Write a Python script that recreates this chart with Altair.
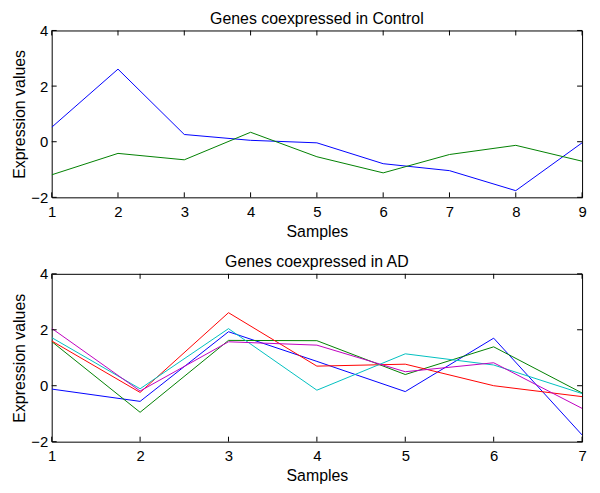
import altair as alt
import pandas as pd

# ---- data ----
control_samples = [1, 2, 3, 4, 5, 6, 7, 8, 9]
control_blue = [0.52, 2.61, 0.26, 0.05, -0.04, -0.79, -1.04, -1.76, -0.04]
control_green = [-1.19, -0.42, -0.65, 0.34, -0.54, -1.12, -0.46, -0.13, -0.70]

ad_samples = [1, 2, 3, 4, 5, 6, 7]
ad_blue = [-0.12, -0.56, 1.93, 0.87, -0.21, 1.70, -1.76]
ad_green = [1.58, -0.95, 1.62, 1.61, 0.40, 1.39, -0.26]
ad_red = [1.60, -0.24, 2.61, 0.70, 0.77, 0.00, -0.39]
ad_cyan = [1.72, -0.11, 2.04, -0.16, 1.14, 0.74, -0.28]
ad_magenta = [2.05, -0.19, 1.57, 1.45, 0.50, 0.82, -0.81]

y_ticks = [-2, 0, 2, 4]
series_names = ["blue", "green", "red", "cyan", "magenta"]
series_colors = ["#0000ff", "#008000", "#ff0000", "#00bfbf", "#bf00bf"]

W = 534
TICK = 5
FONT = "Liberation Sans"


def panel(samples, series, title, H):
    rows = []
    for name, vals in series:
        for s, v in zip(samples, vals):
            rows.append({"sample": s, "value": v, "series": name})
    df = pd.DataFrame(rows)

    xscale = alt.Scale(domain=[samples[0], samples[-1]], nice=False, zero=False)
    yscale = alt.Scale(domain=[y_ticks[0], y_ticks[-1]], nice=False, zero=False)
    xaxis = alt.Axis(values=samples, title="Samples", format="d",
                     labelFlush=False, labelPadding=7, titlePadding=4)
    yaxis = alt.Axis(values=y_ticks, title="Expression values", format="d",
                     labelPadding=4, titlePadding=3)

    lines = alt.Chart(df).mark_line(strokeWidth=1, clip=True).encode(
        x=alt.X("sample:Q", scale=xscale, axis=xaxis),
        y=alt.Y("value:Q", scale=yscale, axis=yaxis),
        color=alt.Color("series:N",
                        scale=alt.Scale(domain=series_names, range=series_colors),
                        legend=None),
    )

    xt = pd.DataFrame({"sample": samples})
    yt = pd.DataFrame({"value": y_ticks})
    xbot = alt.Chart(xt).mark_rule(color="black", strokeWidth=1).encode(
        x=alt.X("sample:Q", scale=xscale, axis=xaxis),
        y=alt.value(H), y2=alt.value(H - TICK))
    xtop = alt.Chart(xt).mark_rule(color="black", strokeWidth=1).encode(
        x=alt.X("sample:Q", scale=xscale, axis=xaxis),
        y=alt.value(0), y2=alt.value(TICK))
    yleft = alt.Chart(yt).mark_rule(color="black", strokeWidth=1).encode(
        y=alt.Y("value:Q", scale=yscale, axis=yaxis),
        x=alt.value(0), x2=alt.value(TICK))
    yright = alt.Chart(yt).mark_rule(color="black", strokeWidth=1).encode(
        y=alt.Y("value:Q", scale=yscale, axis=yaxis),
        x=alt.value(W), x2=alt.value(W - TICK))

    return alt.layer(lines, xbot, xtop, yleft, yright).properties(
        width=W, height=H,
        title=alt.TitleParams(title, fontSize=16, font=FONT, fontWeight="normal",
                              color="black", offset=-3, anchor="middle"),
    )


top = panel(control_samples,
            [("blue", control_blue), ("green", control_green)],
            "Genes coexpressed in Control", 168)
bottom = panel(ad_samples,
               [("blue", ad_blue), ("green", ad_green), ("red", ad_red),
                ("cyan", ad_cyan), ("magenta", ad_magenta)],
               "Genes coexpressed in AD", 169)

chart = alt.vconcat(top, bottom, spacing=13).properties(
    padding={"left": 3, "top": 0, "right": 5, "bottom": 0},
    background="white",
).configure_view(
    stroke="black", strokeWidth=1
).configure_axis(
    domain=False, ticks=False, grid=False,
    labelFont=FONT, labelFontSize=15, labelColor="black",
    titleFont=FONT, titleFontSize=16, titleFontWeight="normal", titleColor="black",
)

chart.save("out.html", embed_options={"renderer": "svg", "actions": False})
